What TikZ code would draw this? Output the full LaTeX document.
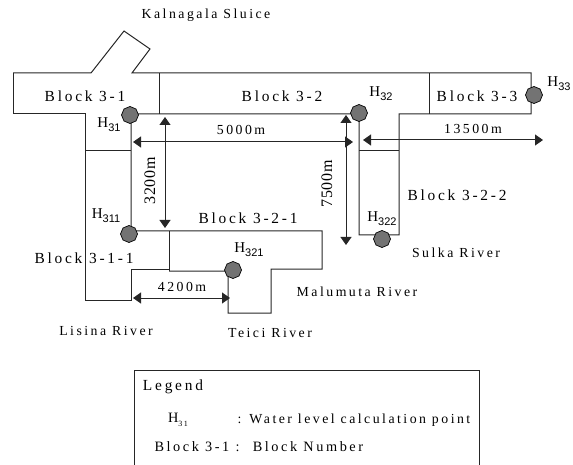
\documentclass[tikz,border=0pt]{standalone}
\usepackage{fontspec}
\setmainfont[LetterSpace=18]{Liberation Serif}
\setsansfont{Liberation Sans}
\usetikzlibrary{arrows.meta, shapes.geometric}
\newcommand{\hsub}[1]{\raisebox{-4pt}{\fontsize{11}{12}\sffamily #1}}
\newcommand{\legsub}[1]{\raisebox{-3.5pt}{\fontsize{8}{9}\selectfont #1}}
\tikzset{
    outline/.style={draw=black!85, line width=1pt},
    dimline/.style={<->, black!85, line width=1pt},
    blocktext/.style={inner sep=0pt, font=\fontsize{15.4}{17}\selectfont},
    pointtext/.style={inner sep=0pt, font=\fontsize{15}{17}\selectfont},
    rivertext/.style={inner sep=0pt, font=\fontsize{13.8}{16}\selectfont},
    legendtext/.style={inner sep=0pt, font=\fontsize{14.3}{16}\selectfont},
    uprighttext/.style={inner sep=0pt, rotate=90, font=\fontsize{16}{18}\selectfont\addfontfeature{LetterSpace=4}},
    calcpoint/.style={draw=black, fill=black!55, regular polygon, regular polygon sides=8, shape border rotate=22.5, minimum size=17pt, inner sep=0pt, line width=0.7pt}
}
\begin{document}
\begin{tikzpicture}[x=1pt, y=-1pt, >={Triangle[length=8pt,width=11pt]}]
    \useasboundingbox (0,0) rectangle (573,465);

    % River outline
    \draw[outline] (13,73) -- (91,73) -- (124,31) -- (150,49) -- (132,73) -- (531,73) -- (531,114) -- (399,114)
        -- (399,235) -- (359,235) -- (359,114) -- (131,114) -- (131,231) -- (322,231) -- (322,269) -- (271,269)
        -- (271,313) -- (228,313) -- (228,271) -- (169,271);
    \draw[outline] (13,73) -- (13,114) -- (85,114) -- (85,300) -- (131,300) -- (131,269) -- (169,269);

    % Block boundaries
    \draw[outline] (159,73) -- (159,114);
    \draw[outline] (429,73) -- (429,114);
    \draw[outline] (85,151) -- (131,151);
    \draw[outline] (169,231) -- (169,271);
    \draw[outline] (359,151) -- (399,151);

    % Calculation points
    \node[calcpoint] (h31) at (130,115) {};
    \node[calcpoint] (h32) at (359,113) {};
    \node[calcpoint] (h33) at (534,95) {};
    \node[calcpoint] (h311) at (129,234) {};
    \node[calcpoint] (h321) at (233,270) {};
    \node[calcpoint] (h322) at (382,239) {};

    % Dimension ends
    \coordinate (wl) at (133,142);
    \coordinate (wr) at (353,142);
    \coordinate (el) at (363,140);
    \coordinate (er) at (543,140);
    \coordinate (nt) at (165,117);
    \coordinate (nb) at (165,228);
    \coordinate (mt) at (346,115);
    \coordinate (mb) at (346,245);
    \coordinate (sl) at (133,298);
    \coordinate (sr) at (230,298);

    % Dimensions
    \draw[dimline] (wl) -- (wr);
    \draw[dimline] (el) -- (er);
    \draw[dimline] (nt) -- (nb);
    \draw[dimline] (mt) -- (mb);
    \draw[dimline] (sl) -- (sr);
    \node[rivertext] (d5000) at (241,130) {5000m};
    \node[rivertext] (d13500) at (473,129) {13500m};
    \node[uprighttext] (d3200) at (150,181) {3200m};
    \node[uprighttext] (d7500) at (327,184) {7500m};
    \node[rivertext] (d4200) at (182,287) {4200m};

    % Block labels
    \node[blocktext] (b31) at (85,96) {Block 3-1};
    \node[blocktext] (b32) at (282,96) {Block 3-2};
    \node[blocktext] (b33) at (477,96) {Block 3-3};
    \node[blocktext] (b322) at (457,195) {Block 3-2-2};
    \node[blocktext] (b321) at (248,218) {Block 3-2-1};
    \node[blocktext] (b311) at (84,258) {Block 3-1-1};

    % Point labels
    \node[pointtext] (l31) at (109,125) {H\hsub{31}};
    \node[pointtext] (l32) at (381,94) {H\hsub{32}};
    \node[pointtext] (l33) at (559,84) {H\hsub{33}};
    \node[pointtext] (l311) at (106,216) {H\hsub{311}};
    \node[pointtext] (l321) at (249,250) {H\hsub{321}};
    \node[pointtext] (l322) at (382,219) {H\hsub{322}};

    % River names
    \node[rivertext] (kal) at (206,15) {Kalnagala Sluice};
    \node[rivertext] (mal) at (357,292) {Malumuta River};
    \node[rivertext] (lis) at (106,331) {Lisina River};
    \node[rivertext] (tei) at (270,333) {Teici River};
    \node[rivertext] (sul) at (456,253) {Sulka River};

    % Legend
    \draw[outline] (134,465) -- (134,370) -- (479,370) -- (479,465);
    \node[blocktext] (leg) at (173,387) {Legend};
    \node[legendtext] (legh) at (178,420) {H\legsub{31}};
    \node[rivertext] (legw) at (354,420) {: Water level calculation point};
    \node[legendtext] (legb) at (197,447) {Block 3-1 :};
    \node[legendtext] (legn) at (308,447) {Block Number};
\end{tikzpicture}
\end{document}
